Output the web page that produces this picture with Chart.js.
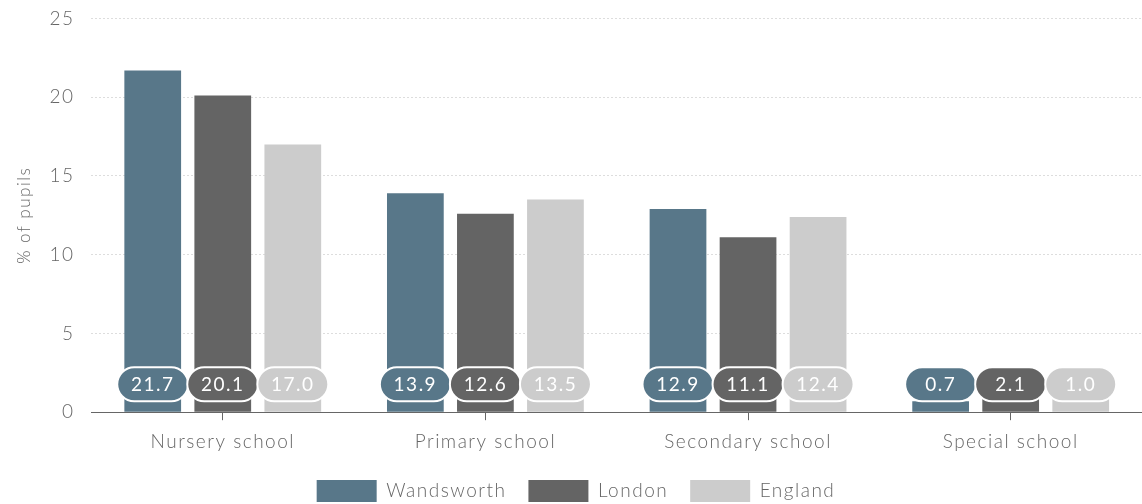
<!DOCTYPE html>
<html>
<head>
<meta charset="utf-8">
<script src="https://cdn.jsdelivr.net/npm/chart.js@4"></script>
<style>
  html, body { margin: 0; padding: 0; background: #fff; }
  #wrap { width: 1142px; height: 504px; }
</style>
</head>
<body>
<div id="wrap"><canvas id="schoolChart"></canvas></div>
<script>
const categories = ['Nursery school', 'Primary school', 'Secondary school', 'Special school'];
const wandsworth = [21.7, 13.9, 12.9, 0.7];
const london = [20.1, 12.6, 11.1, 2.1];
const england = [17.0, 13.5, 12.4, 1.0];
const yTicks = [0, 5, 10, 15, 20, 25];

const colours = ['#587789', '#646464', '#cccccc'];

// the original text is set a little wider than plain Lato
const wideText = {
    id: 'wideText',
    beforeUpdate(chart) { chart.ctx.letterSpacing = '1.5px'; },
    beforeDraw(chart) { chart.ctx.letterSpacing = '1.5px'; }
};

// pill labels sitting at the foot of each bar
const pillLabels = {
    id: 'pillLabels',
    afterDatasetsDraw(chart) {
        const ctx = chart.ctx;
        const yZero = chart.scales.y.getPixelForValue(0);
        chart.data.datasets.forEach(function (ds, i) {
            const meta = chart.getDatasetMeta(i);
            meta.data.forEach(function (bar, j) {
                const w = 71, h = 34;
                const x = bar.x - w / 2;
                const y = yZero - 28 - h / 2;
                ctx.save();
                ctx.beginPath();
                ctx.roundRect(x, y, w, h, 17);
                ctx.fillStyle = ds.backgroundColor;
                ctx.fill();
                ctx.lineWidth = 2;
                ctx.strokeStyle = '#ffffff';
                ctx.stroke();
                ctx.fillStyle = '#ffffff';
                ctx.font = '19px Lato';
                ctx.textAlign = 'center';
                ctx.textBaseline = 'middle';
                ctx.fillText(ds.data[j].toFixed(1), bar.x, y + h / 2 + 1);
                ctx.restore();
            });
        });
    }
};

new Chart(document.getElementById('schoolChart'), {
    type: 'bar',
    data: {
        labels: categories,
        datasets: [
            { label: 'Wandsworth', data: wandsworth, backgroundColor: colours[0] },
            { label: 'London', data: london, backgroundColor: colours[1] },
            { label: 'England', data: england, backgroundColor: colours[2] }
        ]
    },
    options: {
        responsive: true,
        maintainAspectRatio: false,
        animation: false,
        barPercentage: 0.81,
        categoryPercentage: 0.8,
        layout: { padding: { top: 0, right: 0, left: 10, bottom: -8 } },
        scales: {
            x: {
                grid: { drawOnChartArea: false, offset: false, tickLength: 8, color: '#666' },
                border: { color: '#666', width: 1 },
                ticks: { color: '#666', font: { family: 'Lato', size: 19, weight: 300 }, padding: 10 },
                afterFit(axis) { axis.height -= 5; }
            },
            y: {
                min: 0,
                max: 25,
                afterBuildTicks(axis) { axis.ticks = yTicks.map(v => ({ value: v })); },
                grid: { color: '#dddddd', tickColor: 'rgba(0,0,0,0)', tickLength: 10 },
                border: { display: false, dash: [2, 2] },
                ticks: { color: '#666', font: { family: 'Lato', size: 19, weight: 300 }, padding: 7 },
                title: { display: true, text: '% of pupils', color: '#666', font: { family: 'Lato', size: 17, weight: 300 } },
                afterFit(axis) { axis.width += 4; }
            }
        },
        plugins: {
            legend: {
                position: 'bottom',
                labels: {
                    boxWidth: 60, boxHeight: 22, padding: 22,
                    color: '#666', font: { family: 'Lato', size: 19, weight: 300 }
                }
            },
            tooltip: { enabled: false }
        }
    },
    plugins: [wideText, pillLabels]
});
</script>
</body>
</html>
